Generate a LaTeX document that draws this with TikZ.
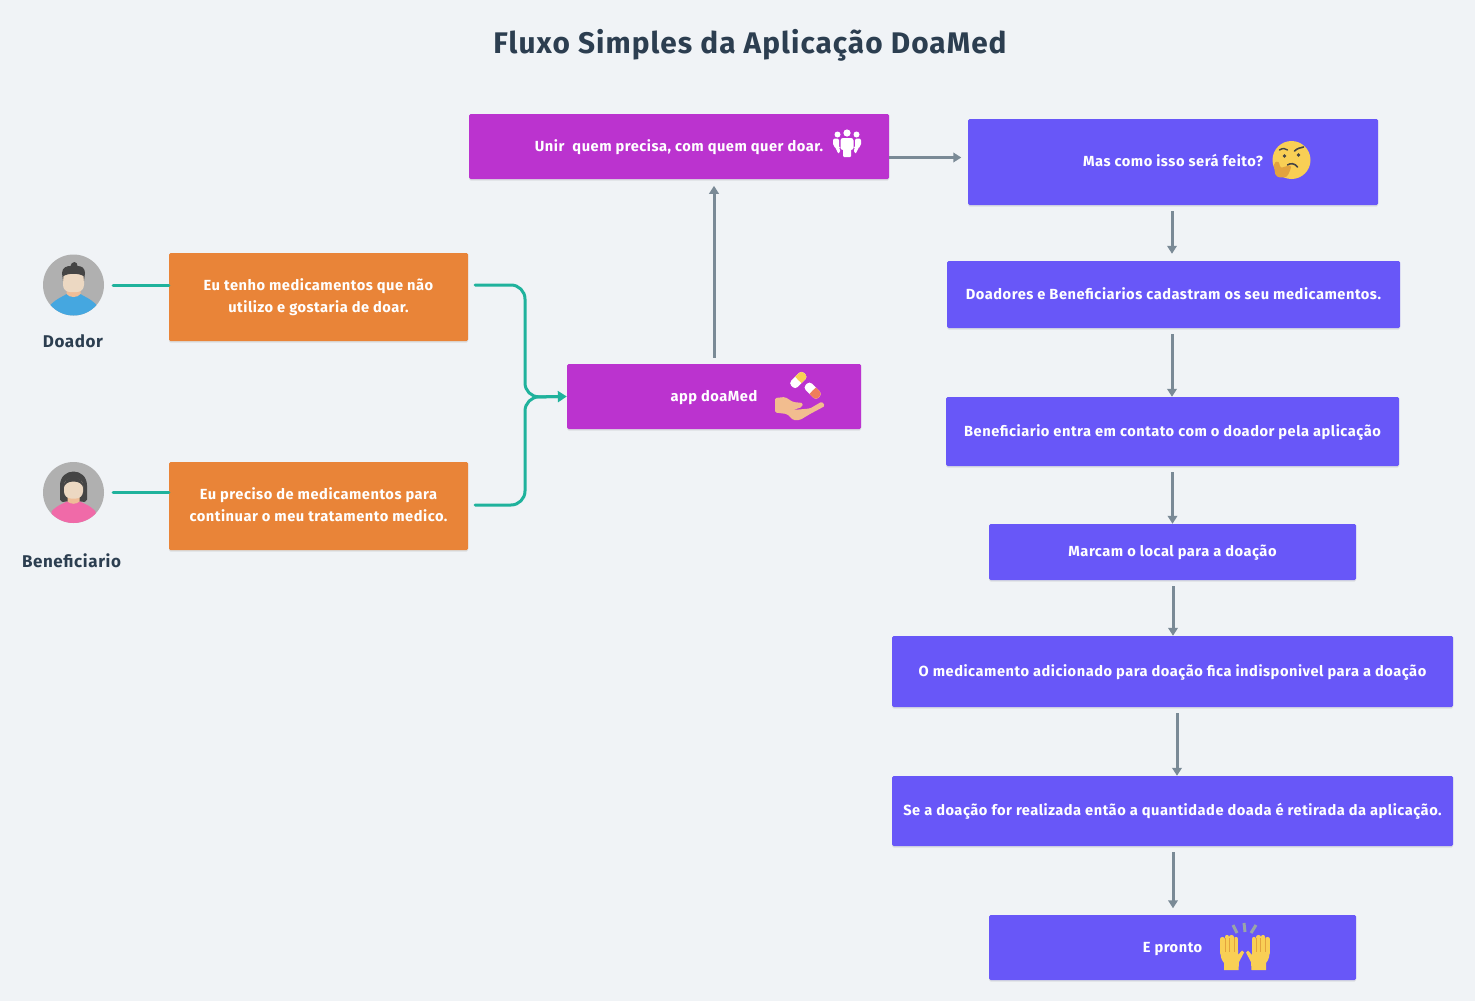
\documentclass[tikz,border=0pt]{standalone}
\usepackage{fontspec}
\setmainfont{Fira Sans}[LetterSpace=3.5]
\usetikzlibrary{arrows.meta,shadows}

\definecolor{fundo}{HTML}{F0F3F6}
\definecolor{laranja}{HTML}{E98438}
\definecolor{roxo}{HTML}{BB33CF}
\definecolor{azul}{HTML}{6857F8}
\definecolor{verde}{HTML}{1FB29C}
\definecolor{cinza}{HTML}{7A8A96}
\definecolor{escuro}{HTML}{2C3E50}
\definecolor{pele}{HTML}{ECD8C2}
\definecolor{pescoco}{HTML}{EFBD97}
\definecolor{cabelo}{HTML}{454545}
\definecolor{amarelo}{HTML}{F9CF55}
\definecolor{polegar}{HTML}{E3A33E}
\definecolor{camisa}{HTML}{45A7E0}
\definecolor{blusa}{HTML}{F06AA8}
\definecolor{capsula}{HTML}{EF7D5B}
\definecolor{palma}{HTML}{F2BD8F}
\definecolor{brilho}{HTML}{9AA5A8}

\tikzset{
  caixa/.style={text=white,font=\bfseries\fontsize{14.65}{22}\selectfont,align=center,rounded corners=1.5pt,
    inner sep=0pt,drop shadow={shadow xshift=0pt,shadow yshift=-1.5pt,opacity=.18}},
  linha/.style={caixa,text height=10pt,text depth=.4pt},
  pessoa/.style={font=\bfseries\fontsize{17}{20}\selectfont,text=escuro},
  avatar/.style={circle,fill=black!31,minimum size=61pt,inner sep=0pt},
  seta/.style={-{Triangle[length=8pt,width=9.5pt]},cinza,line width=3pt,shorten <=6pt,shorten >=6.5pt},
  ligacao/.style={verde,line width=3pt,line cap=round}
}

\newcommand{\maoaberta}{
  \foreach \dx/\dy in {-9.5/-14,-5/-16,-0.5/-16,4/-14}
    \draw[amarelo,line width=4.2pt,line cap=round] (\dx,0) -- (\dx,\dy);
  \fill[amarelo] (-11.5,-3) -- (6,-3) -- (6,2) -- (10,-2.5) -- (12,-.5) -- (7,9) -- (6.5,17) -- (-8,17) -- (-8,10) .. controls (-11,6) and (-11.5,4) .. cycle;
  \foreach \dx in {-7.2,-2.7,1.8}
    \draw[polegar,line width=.5pt] (\dx,-15) -- (\dx,-1);
}

\begin{document}
\begin{tikzpicture}[x=1pt,y=-1pt]
  \useasboundingbox (0,0) rectangle (1475,1001);
  \fill[fundo] (0,0) rectangle (1475,1001);

  \node[font=\bfseries\fontsize{29.8}{36}\selectfont,text=escuro] (titulo) at (750,45) {Fluxo Simples da Aplicação DoaMed};

  \node[avatar] (doador) at (73.5,285) {};
  \node[avatar] (beneficiario) at (73.5,492.5) {};
  \node[pessoa] (lbldoador) at (73,341) {Doador};
  \node[pessoa] (lblbenef) at (71.5,561) {Beneficiario};

  \node[caixa,fill=laranja,minimum width=299pt,minimum height=88pt] (doar) at (318.5,297) {Eu tenho medicamentos que não\\utilizo e gostaria de doar.};
  \node[caixa,fill=laranja,minimum width=299pt,minimum height=88pt] (preciso) at (318.5,506) {Eu preciso de medicamentos para\\continuar o meu tratamento medico.\vphantom{g}};
  \node[linha,fill=roxo,minimum width=294pt,minimum height=65pt] (app) at (714,396.5) {app doaMed};
  \node[linha,fill=roxo,minimum width=420pt,minimum height=65pt] (unir) at (679,146.5) {Unir\ \ quem precisa, com quem quer doar.};

  \node[linha,fill=azul,minimum width=410pt,minimum height=86pt] (como) at (1173,162) {Mas como isso será feito?};
  \node[linha,fill=azul,minimum width=453pt,minimum height=67pt] (cadastro) at (1173.5,294.5) {Doadores e Beneficiarios cadastram os seu medicamentos.};
  \node[linha,fill=azul,minimum width=453pt,minimum height=69pt] (contato) at (1172.5,431.5) {Beneficiario entra em contato com o doador pela aplicação};
  \node[linha,fill=azul,minimum width=367pt,minimum height=56pt] (local) at (1172.5,552) {Marcam o local para a doação};
  \node[linha,fill=azul,minimum width=561pt,minimum height=71pt] (indisp) at (1172.5,671.5) {O medicamento adicionado para doação fica indisponivel para a doação};
  \node[linha,fill=azul,minimum width=561pt,minimum height=70pt] (retirada) at (1172.5,811) {Se a doação for realizada então a quantidade doada é retirada da aplicação.};
  \node[linha,fill=azul,minimum width=367pt,minimum height=65pt] (pronto) at (1172.5,947.5) {E pronto};

  \coordinate (juncao) at (525,397);
  \draw[ligacao,shorten <=9pt] (doador.east) -- (doar.west |- doador.east);
  \draw[ligacao,shorten <=9pt] (beneficiario.east) -- (preciso.west |- beneficiario.east);
  \draw[ligacao,rounded corners=14pt,shorten <=7pt,shorten >=8pt] ([yshift=12pt]doar.east) -| (juncao) -- (app.west);
  \draw[ligacao,rounded corners=14pt,-{Triangle[length=9pt,width=11pt]},shorten <=7pt] ([yshift=1pt]preciso.east) -| (juncao) -- (app.west);

  \draw[seta,shorten >=0pt] (app.north) -- ++(0,-178);
  \draw[seta,shorten <=0pt] ([yshift=-11pt]unir.east) -- ([yshift=4.5pt]como.west);
  \draw[seta,shorten >=7pt] ([xshift=-1pt]como.south) -- ([xshift=-1.5pt]cadastro.north);
  \draw[seta,shorten >=0pt] ([xshift=-1.5pt]cadastro.south) -- ([xshift=-.5pt]contato.north);
  \draw[seta,shorten >=0pt] (contato.south) -- (local.north);
  \draw[seta,shorten >=0pt] ([xshift=.5pt]local.south) -- ([xshift=.5pt]indisp.north);
  \draw[seta,shorten >=0pt] ([xshift=4.5pt]indisp.south) -- ([xshift=4.5pt]retirada.north);
  \draw[seta] ([xshift=.5pt]retirada.south) -- ([xshift=.5pt]pronto.north);

  % avatares
  \begin{scope}[shift={(doador.center)}]
    \clip (0,0) circle (30.5);
    \fill[camisa] (-24,21) .. controls (-17,13) and (-9,11) .. (-7,9) -- (7,9) .. controls (9,11) and (17,13) .. (24,21) -- (24,34) -- (-24,34) -- cycle;
    \fill[pescoco] (-7,3) -- (7,3) -- (7,9) .. controls (4,13) and (-4,13) .. (-7,9) -- cycle;
    \fill[pele,rounded corners=7pt] (-10.5,-14) rectangle (10.5,7);
    \fill[cabelo] (-10.5,-4) -- (-11.5,-12) .. controls (-11.5,-18) and (-6,-19) .. (-3,-19) .. controls (-3,-21) and (-1,-23) .. (1,-23) .. controls (3,-23) and (4,-21) .. (4,-19) .. controls (8,-19) and (11.5,-17) .. (11.5,-12) -- (10.5,-4) -- (10,-9) .. controls (5,-12) and (-5,-12) .. (-10,-9) -- cycle;
  \end{scope}
  \begin{scope}[shift={(beneficiario.center)}]
    \clip (0,0) circle (30.5);
    \fill[cabelo] (-13.5,7) -- (-13.5,-7) .. controls (-13.5,-16) and (-7,-21) .. (0,-21) .. controls (7,-21) and (13.5,-16) .. (13.5,-7) -- (13.5,7) .. controls (12,10) and (9,10) .. (8,9) -- (-8,9) .. controls (-9,10) and (-12,10) .. cycle;
    \fill[blusa] (-22,19) .. controls (-16,12) and (-9,11) .. (-7,9) -- (7,9) .. controls (9,11) and (16,12) .. (22,19) -- (22,34) -- (-22,34) -- cycle;
    \fill[pescoco] (-6,2) -- (6,2) -- (6,9) .. controls (3,12) and (-3,12) .. (-6,9) -- cycle;
    \fill[pele,rounded corners=7pt] (-9.5,-14) rectangle (9.5,6);
    \fill[cabelo] (-10,-4) .. controls (-10,-13) and (-5,-15) .. (0,-15) .. controls (5,-15) and (10,-13) .. (10,-4) .. controls (9,-9) and (5,-11) .. (0,-11) .. controls (-5,-11) and (-9,-9) .. cycle;
  \end{scope}

  % pessoas
  \begin{scope}[shift={(847,143)},white]
    \fill (0,-10) circle (3.6);
    \fill (-9.5,-8.5) circle (3);
    \fill (9.5,-8.5) circle (3);
    \fill[rounded corners=2.5pt] (-6.5,-5) rectangle (6.5,7);
    \fill[rounded corners=1pt] (-4,0) rectangle (4,14);
    \fill[rounded corners=2pt] (-14,-4.5) -- (-8,-4.5) -- (-8,5) -- (-7,5) -- (-7,10) -- (-10,10) -- (-10,6) -- (-14,3) -- cycle;
    \fill[rounded corners=2pt] (14,-4.5) -- (8,-4.5) -- (8,5) -- (7,5) -- (7,10) -- (10,10) -- (10,6) -- (14,3) -- cycle;
  \end{scope}

  % pensativo
  \begin{scope}[shift={(1291.5,160)}]
    \fill[amarelo] (0,0) circle (19);
    \draw[cabelo,line width=1.4pt,line cap=round] (-12,-10) .. controls (-9,-12) and (-6,-12) .. (-4,-10);
    \draw[cabelo,line width=1.6pt,line cap=round] (3,-9) .. controls (6,-12) and (9,-12) .. (12,-13);
    \fill[cabelo] (-7,-4) circle (1.9);
    \fill[cabelo] (7,-5) circle (1.9);
    \draw[cabelo,line width=1.6pt,line cap=round] (-4,5) .. controls (-1,3) and (3,3) .. (6,7);
    \fill[polegar,rounded corners=2pt] (-18,3) -- (-13,1) -- (-11,8) -- (-1,5) -- (0,9) -- (-3,12) -- (-3,16) -- (-10,18) -- (-16,16) -- cycle;
  \end{scope}

  % mao e remedios
  \begin{scope}[rotate around={45:(798.3,380)}]
    \fill[white,rounded corners=3.5pt] (789.3,375.5) rectangle (807.3,384.5);
    \fill[amarelo,rounded corners=3.5pt] (798.3,375.5) rectangle (807.3,384.5);
    \fill[amarelo] (798.3,375.5) rectangle (801.5,384.5);
  \end{scope}
  \begin{scope}[rotate around={-45:(812.7,390.7)}]
    \fill[white,rounded corners=3.5pt] (803.7,386.2) rectangle (821.7,395.2);
    \fill[capsula,rounded corners=3.5pt] (812.7,386.2) rectangle (821.7,395.2);
    \fill[capsula] (812.7,386.2) rectangle (815.9,395.2);
  \end{scope}
  \fill[palma,rounded corners=1.5pt] (775,398) -- (775,412.5) -- (787,414) -- (793,420) -- (800,420) -- (810,414) -- (825,406) -- (822,401.5) -- (810,408.5) -- (793,410) -- (802,407) -- (803,403) -- (793,402) -- (785,397) -- cycle;

  % maos
  \begin{scope}[shift={(1232,953)}]
    \maoaberta
  \end{scope}
  \begin{scope}[shift={(1258,953)},xscale=-1]
    \maoaberta
  \end{scope}
  \foreach \xa/\ya/\xb/\yb in {1233/925/1237/933,1244/923/1245/932,1256/925/1251/933}
    \draw[brilho,line width=3pt] (\xa,\ya) -- (\xb,\yb);
\end{tikzpicture}
\end{document}
